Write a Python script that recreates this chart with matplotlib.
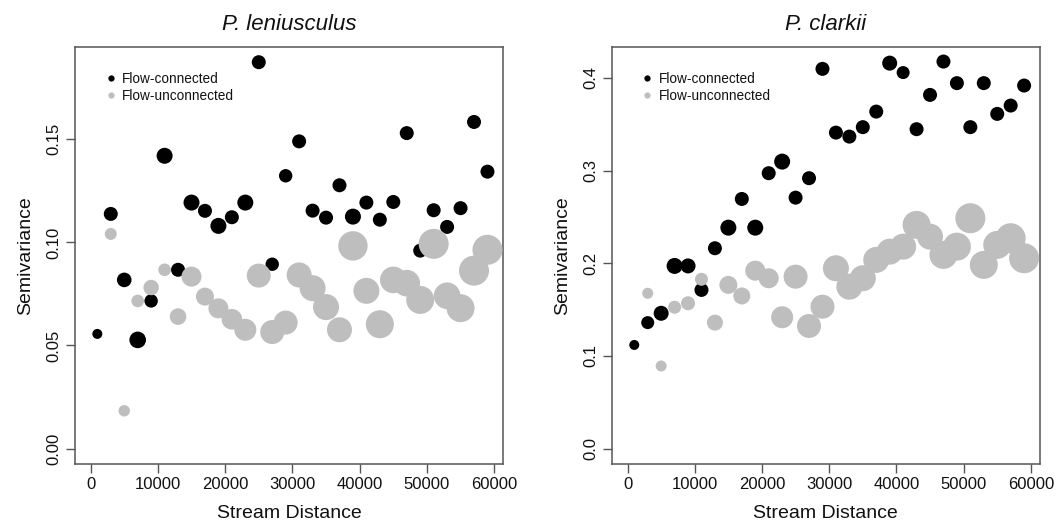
import matplotlib
matplotlib.use("Agg")
import matplotlib.pyplot as plt
from matplotlib.lines import Line2D

plt.rcParams["font.family"] = ["Liberation Sans", "DejaVu Sans"]

# distance bins (stream distance, m)
dist = [1000, 3000, 5000, 7000, 9000, 11000, 13000, 15000, 17000, 19000,
        21000, 23000, 25000, 27000, 29000, 31000, 33000, 35000, 37000, 39000,
        41000, 43000, 45000, 47000, 49000, 51000, 53000, 55000, 57000, 59000]
dist_unc = dist[1:]

# P. leniusculus semivariance
len_conn = [0.0556, 0.1138, 0.0818, 0.0527, 0.0716, 0.1420, 0.0867, 0.1193, 0.1153, 0.1080,
            0.1122, 0.1193, 0.1874, 0.0894, 0.1323, 0.1490, 0.1154, 0.1120, 0.1277, 0.1125,
            0.1193, 0.1110, 0.1196, 0.1530, 0.0960, 0.1156, 0.1075, 0.1166, 0.1584, 0.1343]
len_unc = [0.1041, 0.0183, 0.0716, 0.0781, 0.0867, 0.0640, 0.0834, 0.0737, 0.0680,
           0.0627, 0.0576, 0.0839, 0.0565, 0.0611, 0.0842, 0.0778, 0.0686, 0.0576, 0.0983,
           0.0765, 0.0603, 0.0818, 0.0802, 0.0721, 0.0993, 0.0741, 0.0681, 0.0863, 0.0964]
# relative point weights (number of pairs, scaled)
len_conn_w = [5.0, 7.0, 7.3, 8.3, 6.7, 8.0, 7.0, 8.0, 7.0, 8.0,
              7.0, 8.0, 7.0, 6.7, 6.7, 7.0, 7.0, 7.0, 7.0, 8.0,
              7.0, 7.0, 7.0, 7.0, 7.0, 7.0, 7.0, 7.0, 7.0, 7.0]
len_unc_w = [6.0, 5.7, 6.3, 7.7, 6.3, 8.3, 10.0, 9.0, 10.0,
             10.3, 11.0, 12.0, 12.0, 12.0, 12.5, 13.0, 13.0, 12.5, 14.7,
             13.0, 14.0, 13.3, 13.3, 14.0, 15.0, 13.3, 14.0, 15.0, 15.0]

# P. clarkii semivariance
cla_conn = [0.1118, 0.1359, 0.1460, 0.1971, 0.1971, 0.1712, 0.2162, 0.2384, 0.2694, 0.2384,
            0.2972, 0.3097, 0.2708, 0.2918, 0.4098, 0.3410, 0.3367, 0.3469, 0.3637, 0.4160,
            0.4058, 0.3447, 0.3817, 0.4177, 0.3944, 0.3469, 0.3944, 0.3612, 0.3702, 0.3918]
cla_unc = [0.1676, 0.0891, 0.1525, 0.1568, 0.1827, 0.1359, 0.1766, 0.1647, 0.1920,
           0.1838, 0.1417, 0.1855, 0.1323, 0.1531, 0.1946, 0.1747, 0.1838, 0.2036, 0.2125,
           0.2179, 0.2414, 0.2287, 0.2090, 0.2179, 0.2486, 0.1982, 0.2198, 0.2270, 0.2054]
cla_conn_w = [5.0, 6.5, 7.5, 8.0, 7.5, 7.0, 7.0, 8.0, 7.0, 8.0,
              7.0, 8.0, 7.0, 7.0, 7.0, 7.0, 7.0, 7.0, 7.0, 7.5,
              6.5, 7.0, 7.0, 7.0, 7.0, 7.0, 7.0, 7.0, 7.0, 7.0]
cla_unc_w = [5.5, 5.5, 6.5, 7.0, 6.5, 8.0, 9.0, 8.5, 10.0,
             10.0, 11.0, 12.0, 12.0, 12.0, 13.0, 13.0, 13.0, 13.0, 13.0,
             13.0, 14.0, 13.0, 14.0, 14.0, 15.0, 14.0, 14.0, 15.0, 15.0]

yticks_len = [0.00, 0.05, 0.10, 0.15]
ytick_lab_len = ["0.00", "0.05", "0.10", "0.15"]
yticks_cla = [0.0, 0.1, 0.2, 0.3, 0.4]
ytick_lab_cla = ["0.0", "0.1", "0.2", "0.3", "0.4"]
xticks = [0, 10000, 20000, 30000, 40000, 50000, 60000]

BLACK = "#000000"
GREY = "#bebebe"
TXT = "#111111"
BOX = "#555555"


def area(w):
    return [(1.44 * v) ** 2 for v in w]


fig = plt.figure(figsize=(10.57, 5.28), dpi=100)
ax1 = fig.add_axes([0.0707, 0.1212, 0.4055, 0.7903])
ax2 = fig.add_axes([0.5787, 0.1212, 0.4052, 0.7903])

panels = [
    (ax1, "P. leniusculus", len_conn, len_conn_w, len_unc, len_unc_w,
     (-0.0075, 0.1949), yticks_len, ytick_lab_len),
    (ax2, "P. clarkii", cla_conn, cla_conn_w, cla_unc, cla_unc_w,
     (-0.0167, 0.4337), yticks_cla, ytick_lab_cla),
]

for ax, title, yc, wc, yu, wu, ylim, yt, ytl in panels:
    ax.scatter(dist, yc, s=area(wc), color=BLACK, linewidths=0, zorder=2)
    ax.scatter(dist_unc, yu, s=area(wu), color=GREY, linewidths=0, zorder=3)

    ax.set_xlim(-2360, 61360)
    ax.set_ylim(*ylim)
    ax.set_xticks(xticks)
    ax.set_xticklabels([str(t) for t in xticks])
    ax.set_yticks(yt)
    ax.set_yticklabels(ytl)
    plt.setp(ax.get_yticklabels(), rotation=90, va="center")

    ax.tick_params(direction="out", length=6.5, width=1.0, color=BOX,
                   labelsize=12, labelcolor=TXT, pad=3)
    for sp in ax.spines.values():
        sp.set_color(BOX)
        sp.set_linewidth(1.1)

    ax.set_xlabel("Stream Distance", fontsize=14, color=TXT, labelpad=9)
    ax.set_ylabel("Semivariance", fontsize=14, color=TXT, labelpad=9)
    ax.set_title(title, fontsize=16, style="italic", color=TXT, pad=12)

    handles = [
        Line2D([], [], marker="o", linestyle="none", markersize=4.5,
               markerfacecolor=BLACK, markeredgewidth=0, label="Flow-connected"),
        Line2D([], [], marker="o", linestyle="none", markersize=4.5,
               markerfacecolor=GREY, markeredgewidth=0, label="Flow-unconnected"),
    ]
    leg = ax.legend(handles=handles, loc="upper left", bbox_to_anchor=(0.055, 0.953),
                    frameon=False, fontsize=9.8, handlelength=1.0, handletextpad=0.3,
                    labelspacing=0.25, borderaxespad=0)
    for t in leg.get_texts():
        t.set_color(TXT)

fig.savefig("out.png", dpi=100)
plt.close(fig)
